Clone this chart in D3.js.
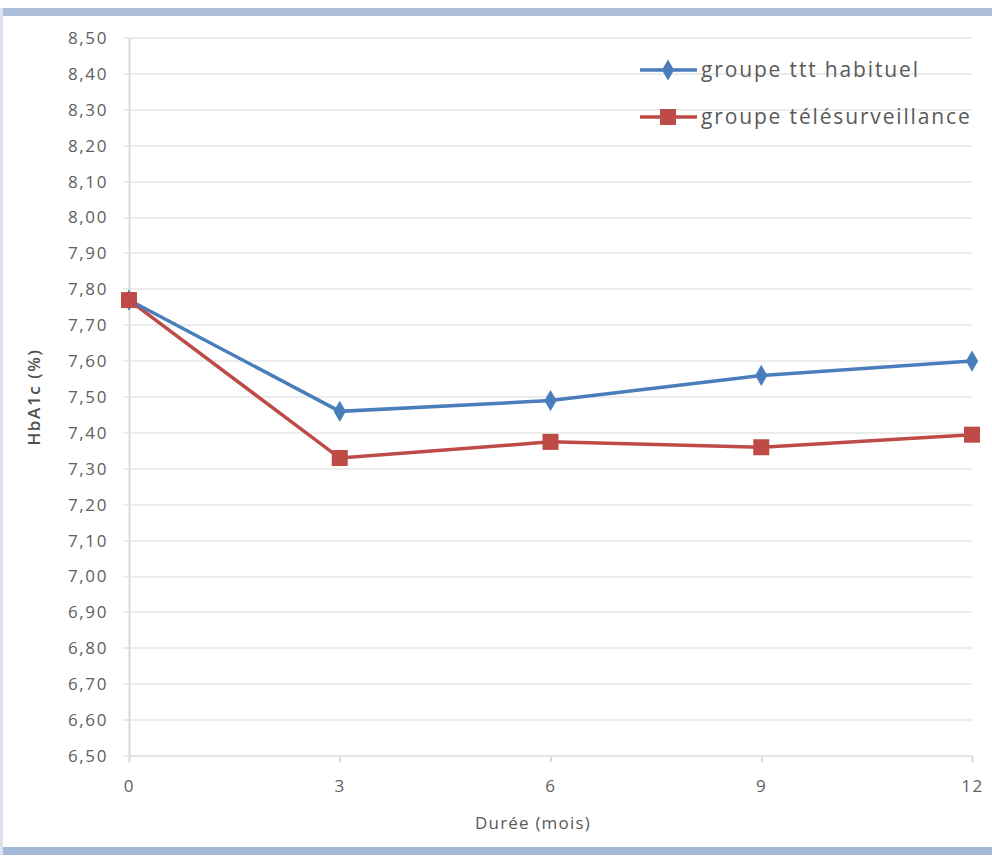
<!DOCTYPE html>
<html lang="fr">
<head>
<meta charset="utf-8">
<script src="https://cdn.jsdelivr.net/npm/d3@7"></script>
<style>
  body { margin: 0; background: #fff; }
  svg { display: block; }
  .axis text { font-family: "Open Sans", sans-serif; font-size: 17px; fill: #606060; letter-spacing: 1.6px; }
  .lbl { font-family: "Open Sans", sans-serif; fill: #595959; }
</style>
</head>
<body>
<svg width="992" height="863"></svg>
<script>
  // data
  var months = [0, 3, 6, 9, 12];
  var habituel = [7.77, 7.46, 7.49, 7.56, 7.60];
  var telesurv = [7.77, 7.33, 7.375, 7.36, 7.395];
  var yTicks = d3.range(6.5, 8.501, 0.1);
  var seriesNames = ["groupe ttt habituel", "groupe télésurveillance"];

  var svg = d3.select("svg");
  var plotLeft = 129, plotRight = 972, plotTop = 38, plotBottom = 756;

  // frame
  svg.append("rect").attr("x", 0).attr("y", 8).attr("width", 992).attr("height", 8).attr("fill", "#aebfdb");
  svg.append("rect").attr("x", 0).attr("y", 847).attr("width", 992).attr("height", 8).attr("fill", "#a4b7d6");
  svg.append("rect").attr("x", 0).attr("y", 8).attr("width", 3).attr("height", 847).attr("fill", "#dbe3f0");

  var x = d3.scaleLinear().domain([0, 12]).range([plotLeft, plotRight]);
  var y = d3.scaleLinear().domain([6.5, 8.5]).range([plotBottom, plotTop]);

  // gridlines
  svg.append("g")
    .selectAll("line")
    .data(yTicks)
    .enter()
    .append("line")
    .attr("x1", plotLeft - 6)
    .attr("x2", plotRight)
    .attr("y1", function (d) { return Math.round(y(d)); })
    .attr("y2", function (d) { return Math.round(y(d)); })
    .attr("stroke", "#ececec")
    .attr("stroke-width", 2);

  // y axis
  var yAxis = d3.axisLeft(y)
    .tickValues(yTicks)
    .tickSize(0)
    .tickPadding(21)
    .tickFormat(function (d) { return d3.format(".2f")(d).replace(".", ","); });
  var gy = svg.append("g").attr("class", "axis").attr("transform", "translate(" + plotLeft + ",0)").call(yAxis);
  gy.select(".domain").attr("stroke", "#d9d9d9").attr("stroke-width", 2);

  // x axis
  var xAxis = d3.axisBottom(x).tickValues(months).tickSize(6).tickPadding(18);
  var gx = svg.append("g").attr("class", "axis").attr("transform", "translate(0," + plotBottom + ")").call(xAxis);
  gx.select(".domain").remove();
  gx.selectAll("line").attr("stroke", "#d9d9d9").attr("stroke-width", 2);

  svg.append("line").attr("x1", plotLeft).attr("x2", plotRight).attr("y1", plotBottom).attr("y2", plotBottom)
    .attr("stroke", "#e3e3e3").attr("stroke-width", 2);

  // axis titles
  svg.append("text").attr("class", "lbl")
    .attr("x", 533).attr("y", 829)
    .attr("text-anchor", "middle")
    .style("font-size", "17px")
    .style("letter-spacing", "1.2px")
    .text("Durée (mois)");
  svg.append("text").attr("class", "lbl")
    .attr("transform", "translate(40,397) rotate(-90)")
    .attr("text-anchor", "middle")
    .style("font-size", "17px")
    .style("font-weight", "600")
    .style("letter-spacing", "1.6px")
    .style("fill", "#505050")
    .text("HbA1c (%)");

  var line = d3.line()
    .x(function (d, i) { return x(months[i]); })
    .y(function (d) { return y(d); });

  var blue = "#4a7ebb", red = "#be4b48";

  svg.append("path").datum(telesurv).attr("d", line).attr("fill", "none").attr("stroke", red).attr("stroke-width", 3.5);
  svg.append("path").datum(habituel).attr("d", line).attr("fill", "none").attr("stroke", blue).attr("stroke-width", 3.5);

  var diamond = d3.symbol().type(d3.symbolDiamond).size(130);
  svg.append("g").selectAll("path").data(habituel).enter().append("path")
    .attr("d", diamond)
    .attr("transform", function (d, i) { return "translate(" + x(months[i]) + "," + y(d) + ")"; })
    .attr("fill", blue);
  svg.append("g").selectAll("rect").data(telesurv).enter().append("rect")
    .attr("x", function (d, i) { return x(months[i]) - 8; })
    .attr("y", function (d) { return y(d) - 8; })
    .attr("width", 16).attr("height", 16)
    .attr("fill", red);

  // legend
  var legend = svg.append("g");
  var colors = [blue, red];
  seriesNames.forEach(function (name, i) {
    var ly = 70 + i * 47;
    legend.append("line").attr("x1", 640).attr("x2", 697).attr("y1", ly).attr("y2", ly)
      .attr("stroke", colors[i]).attr("stroke-width", 3.5);
    if (i === 0) {
      legend.append("path").attr("d", diamond).attr("transform", "translate(668," + ly + ")").attr("fill", blue);
    } else {
      legend.append("rect").attr("x", 660).attr("y", ly - 8).attr("width", 16).attr("height", 16).attr("fill", red);
    }
    legend.append("text").attr("class", "lbl")
      .attr("x", 701).attr("y", ly + 7)
      .style("font-size", "21px")
      .style("letter-spacing", "1.85px")
      .text(name);
  });
</script>
</body>
</html>
